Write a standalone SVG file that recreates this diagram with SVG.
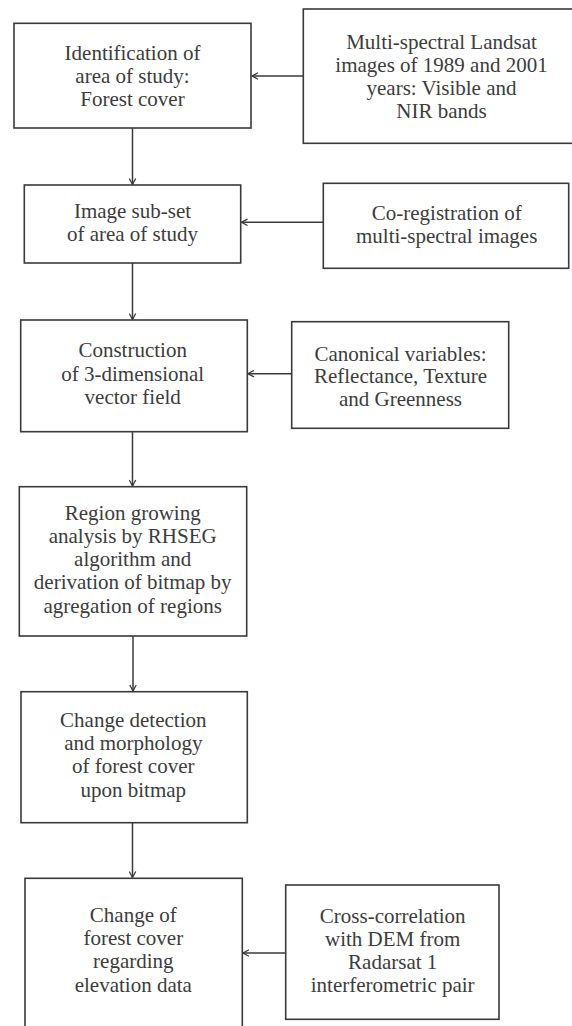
<svg xmlns="http://www.w3.org/2000/svg" width="572" height="1026" viewBox="0 0 572 1026">
  <style>
    .box { fill: #ffffff; stroke: #3a3a3a; stroke-width: 1.6; }
    .lbl { font-family: 'Liberation Serif', 'DejaVu Serif', 'Noto Serif', serif; font-size: 21px; fill: #3c3c3c; text-anchor: middle; }
    .conn { fill: none; stroke: #3a3a3a; stroke-width: 1.5; marker-end: url(#arr); }
  </style>
  <defs>
    <marker id="arr" viewBox="0 0 10 10" refX="9" refY="5" markerWidth="8" markerHeight="8" markerUnits="userSpaceOnUse" orient="auto">
      <path d="M1.5,1 L9,5 L1.5,9" fill="none" stroke="#3a3a3a" stroke-width="1.6"/>
    </marker>
  </defs>
  <rect width="572" height="1026" fill="#ffffff"/>

  <g id="connectors">
    <line class="conn" x1="303.3" y1="76" x2="252" y2="76"/>
    <line class="conn" x1="132.5" y1="128" x2="132.5" y2="184.5"/>
    <line class="conn" x1="323.3" y1="222.3" x2="241.5" y2="222.3"/>
    <line class="conn" x1="132.5" y1="263" x2="132.5" y2="319.5"/>
    <line class="conn" x1="291.7" y1="373.7" x2="248" y2="373.7"/>
    <line class="conn" x1="132.5" y1="431.7" x2="132.5" y2="486"/>
    <line class="conn" x1="133" y1="636" x2="133" y2="691"/>
    <line class="conn" x1="132.5" y1="822.7" x2="132.5" y2="877.5"/>
    <line class="conn" x1="285.7" y1="953" x2="243" y2="953"/>
  </g>

  <g id="n1">
    <rect class="box" x="14" y="23.3" width="237" height="104.7"/>
    <text class="lbl" font-family="Liberation Serif, DejaVu Serif, serif"><tspan x="132.5" y="60">Identification of</tspan><tspan x="132.5" y="82.5">area of study:</tspan><tspan x="132.5" y="106">Forest cover</tspan></text>
  </g>
  <g id="n2">
    <rect class="box" x="303.3" y="9" width="275" height="134.3"/>
    <text class="lbl"><tspan x="441.5" y="49.3">Multi-spectral Landsat</tspan><tspan x="441.5" y="72.3">images of 1989 and 2001</tspan><tspan x="441.5" y="95">years: Visible and</tspan><tspan x="441.5" y="118.3">NIR bands</tspan></text>
  </g>
  <g id="n3">
    <rect class="box" x="24.3" y="185" width="216.4" height="78"/>
    <text class="lbl"><tspan x="132.5" y="217.7">Image sub-set</tspan><tspan x="132.5" y="240.7">of area of study</tspan></text>
  </g>
  <g id="n4">
    <rect class="box" x="323.3" y="183.3" width="245.4" height="85"/>
    <text class="lbl"><tspan x="446.7" y="220">Co-registration of</tspan><tspan x="446.7" y="242.7">multi-spectral images</tspan></text>
  </g>
  <g id="n5">
    <rect class="box" x="20.7" y="320" width="226.6" height="111.7"/>
    <text class="lbl"><tspan x="132.7" y="357.3">Construction</tspan><tspan x="132.7" y="380.7">of 3-dimensional</tspan><tspan x="132.7" y="403.5">vector field</tspan></text>
  </g>
  <g id="n6">
    <rect class="box" x="291.7" y="321.7" width="217" height="106.6"/>
    <text class="lbl"><tspan x="400.5" y="360.5">Canonical variables:</tspan><tspan x="400.5" y="383.3">Reflectance, Texture</tspan><tspan x="400.5" y="406">and Greenness</tspan></text>
  </g>
  <g id="n7">
    <rect class="box" x="19.3" y="486.7" width="227.4" height="149.3"/>
    <text class="lbl"><tspan x="132.7" y="520">Region growing</tspan><tspan x="132.7" y="542.7">analysis by RHSEG</tspan><tspan x="132.7" y="566">algorithm and</tspan><tspan x="132.7" y="589.3">derivation of bitmap by</tspan><tspan x="132.7" y="612.7">agregation of regions</tspan></text>
  </g>
  <g id="n8">
    <rect class="box" x="21" y="691.7" width="226.3" height="131"/>
    <text class="lbl"><tspan x="133.3" y="726.7">Change detection</tspan><tspan x="133.3" y="749.5">and morphology</tspan><tspan x="133.3" y="773.3">of forest cover</tspan><tspan x="133.3" y="796.7">upon bitmap</tspan></text>
  </g>
  <g id="n9">
    <rect class="box" x="25" y="878.3" width="217.3" height="170"/>
    <text class="lbl"><tspan x="133.3" y="921.7">Change of</tspan><tspan x="133.3" y="945">forest cover</tspan><tspan x="133.3" y="968.3">regarding</tspan><tspan x="133.3" y="991.7">elevation data</tspan></text>
  </g>
  <g id="n10">
    <rect class="box" x="285.7" y="885" width="213.3" height="134.3"/>
    <text class="lbl"><tspan x="392.7" y="922.7">Cross-correlation</tspan><tspan x="392.7" y="946">with DEM from</tspan><tspan x="392.7" y="968.7">Radarsat 1</tspan><tspan x="392.7" y="991.7">interferometric pair</tspan></text>
  </g>
</svg>
